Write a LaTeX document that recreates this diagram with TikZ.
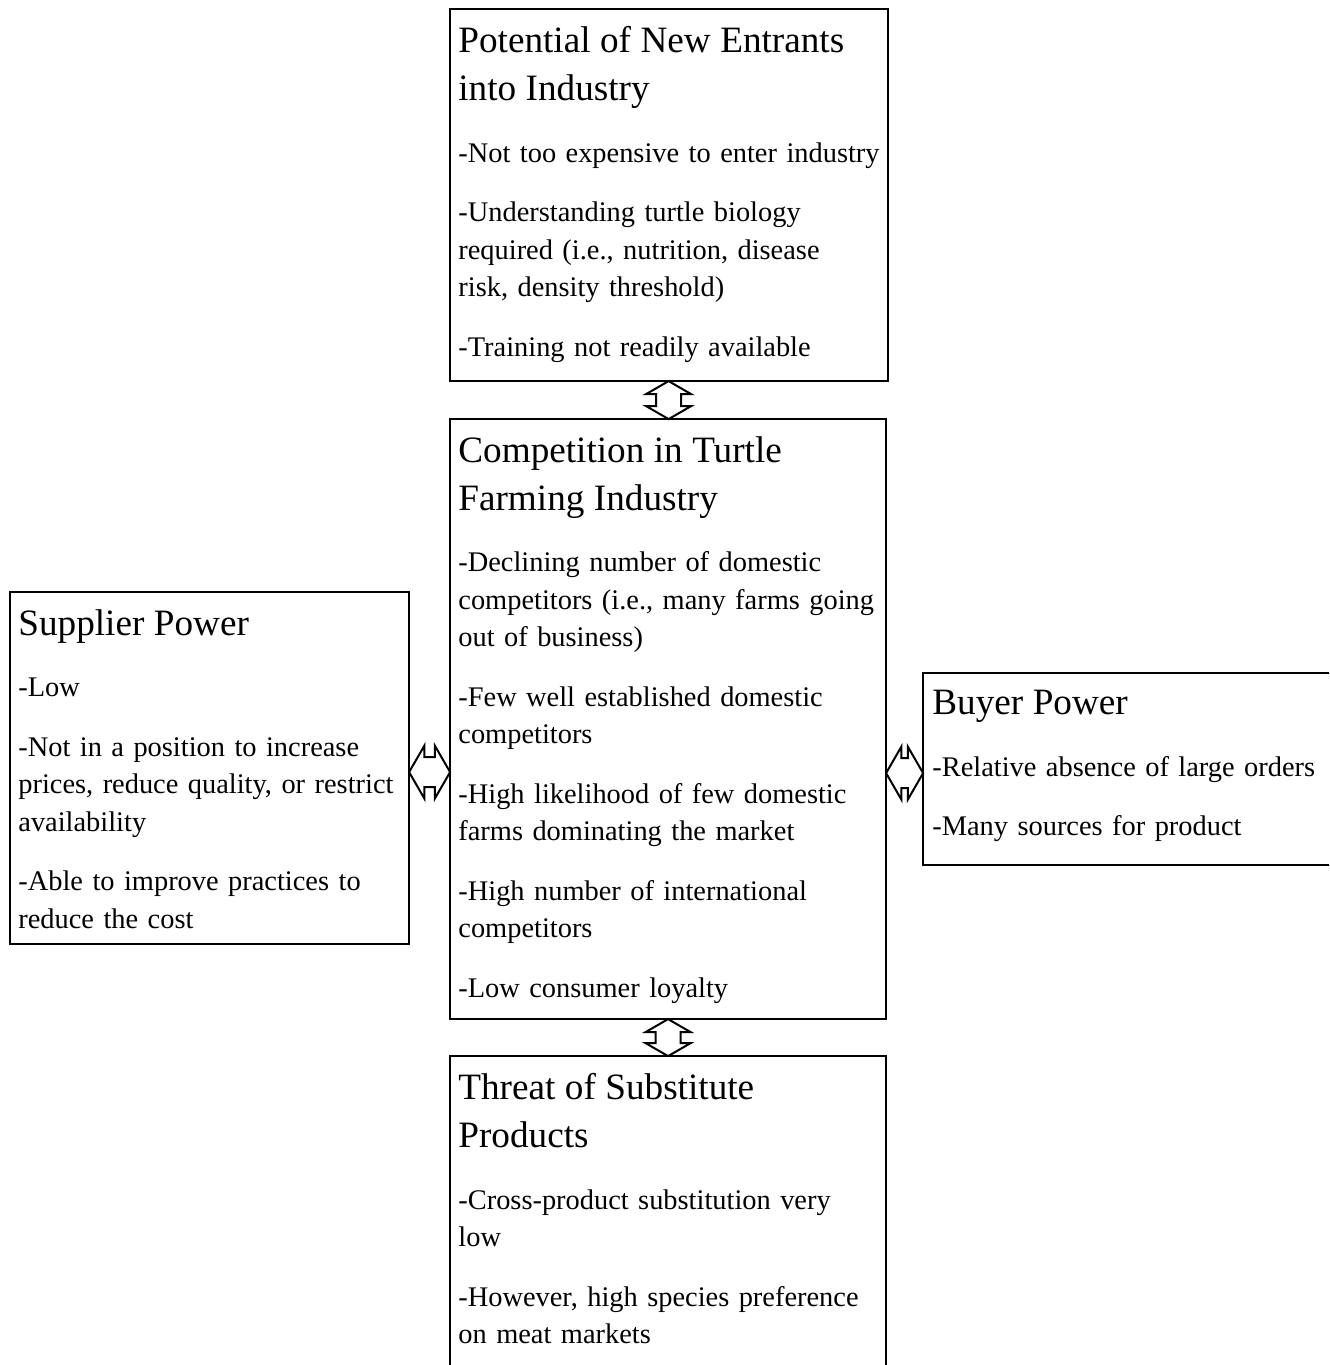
\documentclass[tikz,border=0pt]{standalone}
\usepackage{fontspec}
\setmainfont{Liberation Serif}
\usetikzlibrary{shapes.arrows, calc}

\newcommand{\forcehead}[1]{{\fontsize{18.6pt}{24pt}\selectfont #1\par}\vspace{12pt}}
\newcommand{\forcepoint}[1]{#1\par\vspace{11pt}}

\begin{document}
\begin{tikzpicture}[
    x=0.5pt, y=-0.5pt,
    forcebox/.style={draw, line width=1.1pt, anchor=north west, inner sep=0pt},
    forcetext/.style={anchor=north west, text width=250pt, align=left,
                      inner xsep=4.5pt, inner ysep=9pt,
                      font=\fontsize{14.2pt}{18.75pt}\selectfont},
    twoway/.style={double arrow, draw, fill=white, line width=1pt,
                   inner xsep=0pt, double arrow tip angle=120}
]
    \useasboundingbox (0,0) rectangle (1329,1365);
    \clip (0,0) rectangle (1329,1365);

    % the five forces
    \node[forcebox, minimum width=219pt, minimum height=186pt] (entrants) at (449,8) {};
    \node[forcebox, minimum width=218pt, minimum height=300pt] (rivalry) at (449,418) {};
    \node[forcebox, minimum width=199.5pt, minimum height=176pt] (supplier) at (9,591) {};
    \node[forcebox, minimum width=211.5pt, minimum height=96pt] (buyer) at (922,672) {};
    \node[forcebox, minimum width=218pt, minimum height=165pt] (substitutes) at (449,1055) {};

    \node[forcetext] (entrants-txt) at (entrants.north west) {%
        \forcehead{Potential of New Entrants\\into Industry}
        \forcepoint{-Not too expensive to enter industry}
        \forcepoint{-Understanding turtle biology\\required (i.e., nutrition, disease\\risk, density threshold)}
        \forcepoint{-Training not readily available}};
    \node[forcetext] (rivalry-txt) at (rivalry.north west) {%
        \forcehead{Competition in Turtle\\Farming Industry}
        \forcepoint{-Declining number of domestic\\competitors (i.e., many farms going\\out of business)}
        \forcepoint{-Few well established domestic\\competitors}
        \forcepoint{-High likelihood of few domestic\\farms dominating the market}
        \forcepoint{-High number of international\\competitors}
        \forcepoint{-Low consumer loyalty}};
    \node[forcetext] (supplier-txt) at (supplier.north west) {%
        \forcehead{Supplier Power}
        \forcepoint{-Low}
        \forcepoint{-Not in a position to increase\\prices, reduce quality, or restrict\\availability}
        \forcepoint{-Able to improve practices to\\reduce the cost}};
    \node[forcetext, inner xsep=5pt] (buyer-txt) at (buyer.north west) {%
        \forcehead{Buyer Power}
        \forcepoint{-Relative absence of large orders}
        \forcepoint{-Many sources for product}};
    \node[forcetext] (substitutes-txt) at (substitutes.north west) {%
        \forcehead{Threat of Substitute\\Products}
        \forcepoint{-Cross-product substitution very\\low}
        \forcepoint{-However, high species preference\\on meat markets}};

    % two-way arrows
    \node[twoway, rotate=90, minimum height=19pt, inner ysep=5.75pt,
          double arrow head extend=5pt] (top-arrow)
          at ($(entrants.south)!0.5!(rivalry.north)$) {};
    \node[twoway, rotate=90, minimum height=18.5pt, inner ysep=5.75pt,
          double arrow head extend=5pt] (bottom-arrow)
          at ($(rivalry.south)!0.5!(substitutes.north)$) {};
    \node[twoway, minimum height=20.5pt, inner ysep=7pt, yshift=-2pt,
          double arrow head extend=5.75pt] (left-arrow)
          at ($(supplier.east)!0.5!(rivalry.west |- supplier.east)$) {};
    \node[twoway, minimum height=18.5pt, inner ysep=7pt, yshift=-2pt,
          double arrow head extend=5.75pt] (right-arrow)
          at ($(rivalry.east |- buyer.west)!0.5!(buyer.west)$) {};
\end{tikzpicture}
\end{document}
